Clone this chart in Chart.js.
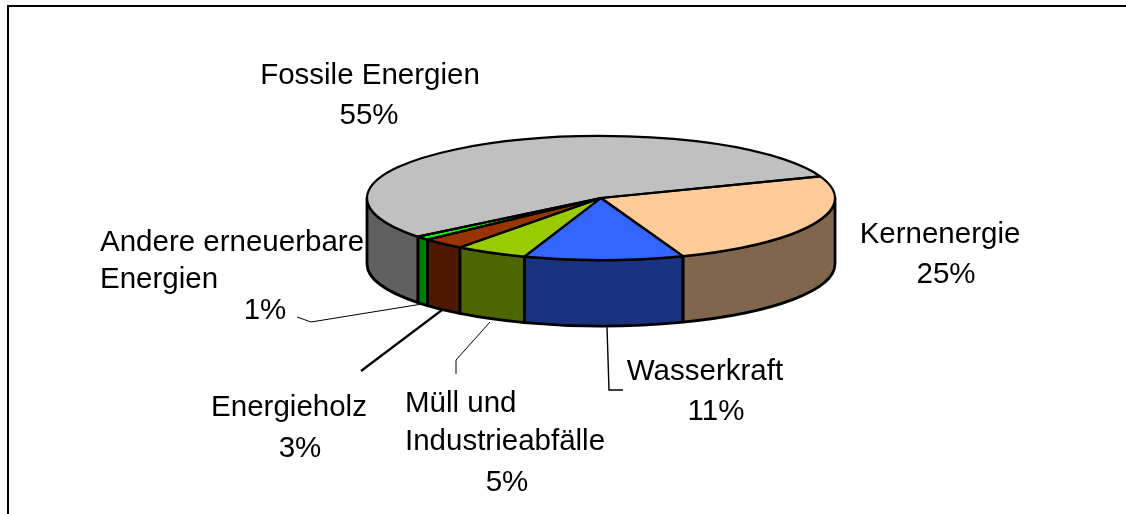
<!DOCTYPE html>
<html><head><meta charset="utf-8">
<style>html,body{margin:0;padding:0;background:#fff}canvas{display:block}</style>
<script src="https://cdn.jsdelivr.net/npm/chart.js@4/dist/chart.umd.js"></script>
</head><body><canvas id="c" width="1126" height="514"></canvas>
<script>
const categories = ["Kernenergie","Wasserkraft","Müll und Industrieabfälle","Energieholz","Andere erneuerbare Energien","Fossile Energien"];
const shares = [25,11,5,3,1,55];
const topColors = ["#FFCC99","#3366FF","#99CC00","#993300","#00FF00","#C0C0C0"];
const sideColors = ["#80664D","#1A3380","#4D6600","#4D1A00","#008000","#606060"];
const nameLines = [["Kernenergie"],["Wasserkraft"],["Müll und","Industrieabfälle"],["Energieholz"],["Andere erneuerbare","Energien"],["Fossile Energien"]];

const view = {cx:601, cy:198, rx:234, ry:62, depth:66};
const labelPlaces = [
  [{x:940,y:243,a:"center"},{x:946,y:283,a:"center"}],
  [{x:705,y:380,a:"center"},{x:716,y:420,a:"center"}],
  [{x:405,y:412,a:"left"},{x:405,y:450,a:"left"},{x:507,y:491,a:"center"}],
  [{x:289,y:416,a:"center"},{x:300,y:457,a:"center"}],
  [{x:100,y:251,a:"left"},{x:100,y:288,a:"left"},{x:265,y:319,a:"center"}],
  [{x:370,y:84,a:"center"},{x:369,y:124,a:"center"}]
];
const leaders = [
  {w:1.4,p:[[607,327],[609,390],[623,390]]},
  {w:1,p:[[456,374],[456,360],[490,322]]},
  {w:2.2,p:[[361,371],[442,310]]},
  {w:1,p:[[297,317],[311,322],[422,304]]}
];

const pie3d = {
  id:"pie3d",
  beforeDatasetsDraw(chart){
    const ctx = chart.ctx, arcs = chart.getDatasetMeta(0).data;
    ctx.save();
    ctx.lineWidth = 2.8; ctx.lineJoin = "round"; ctx.strokeStyle = "#000";
    arcs.forEach((arc,i)=>{
      const s = arc.startAngle, e = arc.endAngle;
      for(let k=-1;k<=1;k++){
        const a = Math.max(s,2*Math.PI*k), b = Math.min(e,2*Math.PI*k+Math.PI);
        if(b<=a) continue;
        ctx.beginPath();
        ctx.ellipse(view.cx,view.cy,view.rx,view.ry,0,a,b);
        ctx.ellipse(view.cx,view.cy+view.depth,view.rx,view.ry,0,b,a,true);
        ctx.closePath();
        ctx.fillStyle = sideColors[i];
        ctx.fill(); ctx.stroke();
      }
    });
    ctx.restore();
    const a0 = arcs[0];
    ctx.save();
    ctx.translate(view.cx,view.cy);
    ctx.scale(view.rx/a0.outerRadius,view.ry/a0.outerRadius);
    ctx.translate(-a0.x,-a0.y);
  },
  afterDatasetsDraw(chart){
    const ctx = chart.ctx, arcs = chart.getDatasetMeta(0).data;
    ctx.restore();
    ctx.save();
    ctx.lineWidth = 2.2; ctx.lineJoin = "round"; ctx.strokeStyle = "#000";
    arcs.forEach(arc=>{
      ctx.beginPath();
      ctx.moveTo(view.cx,view.cy);
      ctx.ellipse(view.cx,view.cy,view.rx,view.ry,0,arc.startAngle,arc.endAngle);
      ctx.closePath();
      ctx.stroke();
    });
    ctx.restore();
  },
  afterDraw(chart){
    const ctx = chart.ctx;
    ctx.save();
    ctx.strokeStyle = "#000";
    ctx.lineWidth = 2;
    ctx.beginPath();
    ctx.moveTo(8,514); ctx.lineTo(8,6); ctx.lineTo(1126,6);
    ctx.stroke();
    leaders.forEach(l=>{
      ctx.lineWidth = l.w;
      ctx.beginPath();
      l.p.forEach((q,j)=> j?ctx.lineTo(q[0],q[1]):ctx.moveTo(q[0],q[1]));
      ctx.stroke();
    });
    ctx.fillStyle = "#000";
    ctx.font = '29.5px "Liberation Sans", Arial, sans-serif';
    ctx.textBaseline = "alphabetic";
    nameLines.forEach((lines,i)=>{
      const texts = lines.concat(shares[i]+"%");
      texts.forEach((t,j)=>{
        const p = labelPlaces[i][j];
        ctx.textAlign = p.a;
        ctx.fillText(t,p.x,p.y);
      });
    });
    ctx.restore();
  }
};

new Chart(document.getElementById("c"),{
  type:"pie",
  data:{labels:categories,datasets:[{data:shares,backgroundColor:topColors,borderWidth:0,clip:false}]},
  options:{
    responsive:false,animation:false,rotation:69.5,
    layout:{padding:{left:367,right:291,top:23,bottom:23}},
    plugins:{legend:{display:false},tooltip:{enabled:false}},
    events:[]
  },
  plugins:[pie3d]
});
</script></body></html>
